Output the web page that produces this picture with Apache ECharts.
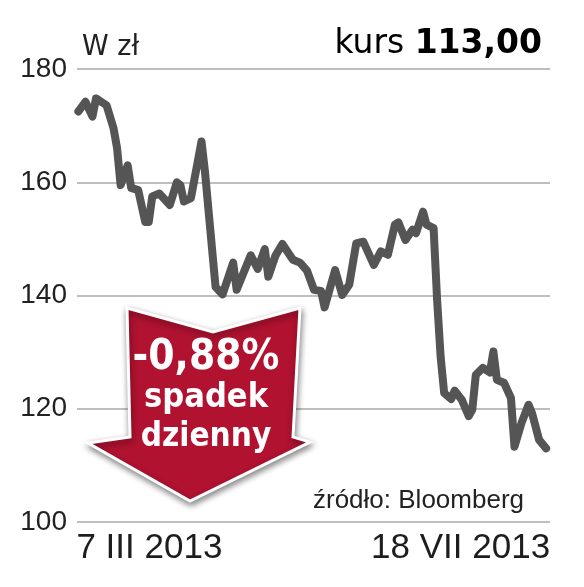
<!DOCTYPE html>
<html>
<head>
<meta charset="utf-8">
<script src="https://cdn.jsdelivr.net/npm/echarts@6/dist/echarts.min.js"></script>
<style>
html,body{margin:0;padding:0;background:#fff;}
#chart{width:584px;height:587px;}
</style>
</head>
<body>
<div id="chart"></div>
<script>
// ---- data ----
const dates = [
 '2013-03-07','2013-03-09','2013-03-11','2013-03-12','2013-03-15','2013-03-17','2013-03-18','2013-03-19',
 '2013-03-21','2013-03-22','2013-03-24','2013-03-26','2013-03-27','2013-03-28','2013-03-30','2013-04-02',
 '2013-04-04','2013-04-05','2013-04-06','2013-04-08','2013-04-11','2013-04-12','2013-04-15','2013-04-17',
 '2013-04-20','2013-04-21','2013-04-25','2013-04-27','2013-04-29','2013-04-30','2013-05-02','2013-05-04',
 '2013-05-07','2013-05-09','2013-05-11','2013-05-13','2013-05-15','2013-05-16','2013-05-19','2013-05-21',
 '2013-05-23','2013-05-25','2013-05-27','2013-05-30','2013-06-01','2013-06-03','2013-06-05','2013-06-06',
 '2013-06-08','2013-06-10','2013-06-11','2013-06-13','2013-06-14','2013-06-16','2013-06-17','2013-06-18',
 '2013-06-19','2013-06-21','2013-06-22','2013-06-24','2013-06-26','2013-06-27','2013-06-28','2013-06-30',
 '2013-07-02','2013-07-03','2013-07-04','2013-07-06','2013-07-08','2013-07-09','2013-07-11','2013-07-13',
 '2013-07-14','2013-07-16','2013-07-18'
];
const prices = [
 172.5,174.2,171.6,174.8,173.6,169.5,166.0,159.5,
 163.0,159.0,158.6,153.0,153.0,157.5,158.0,156.0,
 160.0,159.5,156.6,157.2,167.2,161.8,141.5,140.2,
 145.8,141.0,147.1,144.7,148.2,143.3,147.0,149.1,
 146.3,145.8,144.4,141.0,140.8,137.9,144.5,140.1,
 141.9,149.2,149.5,145.4,147.8,147.2,152.5,152.9,
 149.8,151.6,151.0,154.8,152.5,151.9,139.2,129.2,
 122.8,121.7,123.2,121.6,118.7,119.8,126.0,127.2,
 126.4,130.1,125.1,124.6,121.9,113.3,117.5,120.7,
 119.2,114.5,113.0
];
const yTicks = [100, 120, 140, 160, 180];
const dateLabels = ['7 III 2013', '18 VII 2013'];
const unitLabel = 'W zł';
const priceLabel = 'kurs';
const lastPrice = '113,00';
const changeLabel = '-0,88%';
const changeText = ['spadek', 'dzienny'];
const sourceLabel = 'źródło: Bloomberg';

// ---- build ----
function ts(s){ const p = s.split('-').map(Number); return Date.UTC(p[0], p[1]-1, p[2]); }
const DAY = 86400000;
const seriesData = dates.map((d, i) => [ts(d), prices[i]]);
const xMin = ts(dates[0]) - 0.4 * DAY;
const xMax = ts(dates[dates.length - 1]) + 1.1 * DAY;

const chart = echarts.init(document.getElementById('chart'), null, {renderer: 'canvas'});
const TXT = '#1d1d1d';

chart.setOption({
  animation: false,
  backgroundColor: '#ffffff',
  grid: {left: 77, right: 34, top: 69, bottom: 65, containLabel: false},
  xAxis: {
    type: 'value',
    min: xMin, max: xMax,
    axisLine: {show: false}, axisTick: {show: false},
    axisLabel: {show: false}, splitLine: {show: false}
  },
  yAxis: {
    type: 'value',
    min: yTicks[0], max: yTicks[yTicks.length - 1], interval: 20,
    axisLine: {show: false}, axisTick: {show: false},
    axisLabel: {
      margin: 10, fontSize: 28, fontFamily: 'Liberation Sans, Arial, sans-serif',
      color: '#222', verticalAlign: 'middle', padding: [3, 0, 0, 0]
    },
    splitLine: {lineStyle: {color: '#a9a9a9', width: 1.5}}
  },
  series: [{
    type: 'line',
    data: seriesData,
    showSymbol: false,
    lineStyle: {color: '#555555', width: 8, cap: 'round', join: 'round'},
    z: 3
  }]
});

const p0 = chart.convertToPixel({xAxisIndex: 0, yAxisIndex: 0}, seriesData[0]);
const p1 = chart.convertToPixel({xAxisIndex: 0, yAxisIndex: 0}, seriesData[seriesData.length - 1]);

const arrowPts = [[127,308],[213,332],[300,308],[293,437],[310,442],[190,501],[88,443],[130,437]];

chart.setOption({
  graphic: [
    {type: 'text', left: 82, top: 33, z: 10, scaleY: 1.05,
     style: {text: unitLabel, fill: '#222', font: '27px "DejaVu Sans", sans-serif'}},
    {type: 'text', x: 542, y: 44, z: 10, scaleY: 1.04,
     style: {
       text: '{a|' + priceLabel + ' }{b|' + lastPrice + '}',
       align: 'right', verticalAlign: 'middle',
       rich: {
         a: {fontSize: 33, fontFamily: 'DejaVu Sans', color: TXT},
         b: {fontSize: 33, fontFamily: 'DejaVu Sans', fontWeight: 'bold', color: TXT}
       }
     }},
    {type: 'polygon', z: 20,
     shape: {points: arrowPts},
     style: {fill: '#b01230', stroke: '#ffffff', lineWidth: 3,
             shadowBlur: 6, shadowColor: 'rgba(0,0,0,0.45)', shadowOffsetX: 1, shadowOffsetY: 3}},
    {type: 'text', x: 206, y: 358, z: 21, scaleX: 0.9,
     style: {text: changeLabel, fill: '#fff', align: 'center', verticalAlign: 'middle',
             font: 'bold 42px "DejaVu Sans", sans-serif'}},
    {type: 'text', x: 206, y: 398, z: 21, scaleX: 0.93,
     style: {text: changeText[0], fill: '#fff', align: 'center', verticalAlign: 'middle',
             font: 'bold 33px "DejaVu Sans", sans-serif'}},
    {type: 'text', x: 206, y: 437, z: 21, scaleX: 0.9,
     style: {text: changeText[1], fill: '#fff', align: 'center', verticalAlign: 'middle',
             font: 'bold 33px "DejaVu Sans", sans-serif'}},
    {type: 'text', x: 524, y: 501, z: 10,
     style: {text: sourceLabel, fill: '#222', align: 'right', verticalAlign: 'middle',
             font: '26px "Liberation Sans", Arial, sans-serif'}},
    {type: 'text', x: p0[0] - 2, y: 548, z: 10,
     style: {text: dateLabels[0], fill: TXT, align: 'left', verticalAlign: 'middle',
             font: '35px "Liberation Sans", Arial, sans-serif'}},
    {type: 'text', x: p1[0] + 4, y: 548, z: 10,
     style: {text: dateLabels[1], fill: TXT, align: 'right', verticalAlign: 'middle',
             font: '35px "Liberation Sans", Arial, sans-serif'}}
  ]
});
</script>
</body>
</html>
